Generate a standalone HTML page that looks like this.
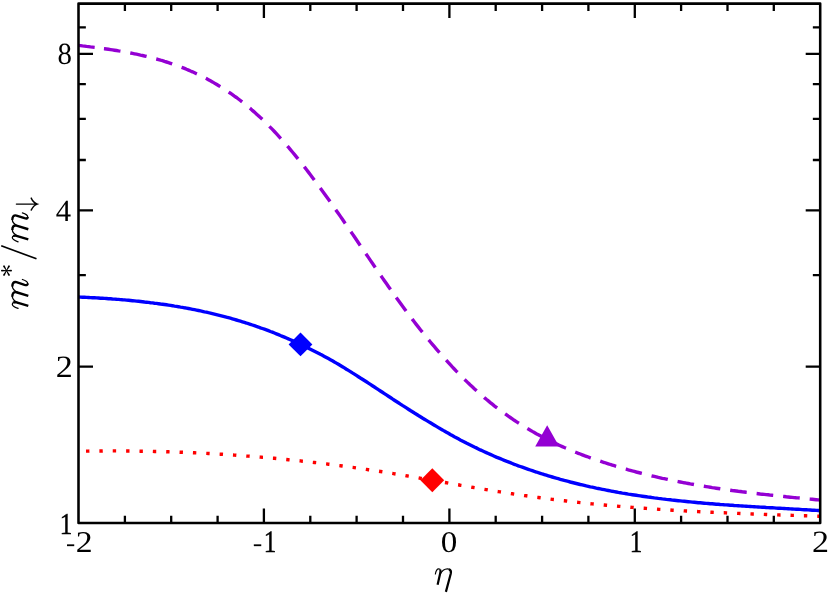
<!DOCTYPE html>
<html><head><meta charset="utf-8"><title>m*/m vs eta</title>
<style>
html,body{margin:0;padding:0;background:#fff;}
body{width:830px;height:593px;overflow:hidden;}
svg{display:block;}
text{font-family:"Liberation Serif",serif;fill:#000;}
</style></head><body>
<svg width="830" height="593" viewBox="0 0 830 593" style="will-change:transform">
<rect width="830" height="593" fill="#fff"/>
<defs><clipPath id="c"><rect x="78.5" y="3.6" width="741.7" height="519.4"/></clipPath></defs>
<g clip-path="url(#c)" fill="none" stroke-width="3.4">
<path d="M78.5,451.2 L80.5,451.2 L82.5,451.1 L84.5,451.1 L86.5,451.1 L88.5,451.1 L90.5,451.0 L92.5,451.0 L94.5,451.0 L96.5,451.0 L98.5,451.0 L100.5,451.0 L102.5,451.0 L104.5,450.9 L106.5,450.9 L108.5,450.9 L110.5,450.9 L112.5,450.9 L114.5,450.9 L116.5,450.9 L118.5,451.0 L120.5,451.0 L122.5,451.0 L124.5,451.0 L126.5,451.0 L128.5,451.0 L130.5,451.0 L132.5,451.1 L134.5,451.1 L136.5,451.1 L138.5,451.1 L140.5,451.2 L142.5,451.2 L144.5,451.2 L146.5,451.3 L148.5,451.3 L150.5,451.4 L152.5,451.4 L154.5,451.5 L156.5,451.5 L158.5,451.5 L160.5,451.6 L162.5,451.7 L164.5,451.7 L166.5,451.8 L168.5,451.8 L170.5,451.9 L172.5,452.0 L174.5,452.0 L176.5,452.1 L178.5,452.2 L180.5,452.3 L182.5,452.3 L184.5,452.4 L186.5,452.5 L188.5,452.6 L190.5,452.7 L192.5,452.7 L194.5,452.8 L196.5,452.9 L198.5,453.0 L200.5,453.1 L202.4,453.2 L204.4,453.3 L206.4,453.4 L208.4,453.5 L210.4,453.6 L212.4,453.8 L214.4,453.9 L216.4,454.0 L218.4,454.1 L220.4,454.2 L222.4,454.3 L224.4,454.5 L226.4,454.6 L228.4,454.7 L230.4,454.9 L232.4,455.0 L234.4,455.1 L236.4,455.3 L238.4,455.4 L240.4,455.6 L242.4,455.7 L244.4,455.8 L246.4,456.0 L248.4,456.1 L250.4,456.3 L252.4,456.5 L254.4,456.6 L256.4,456.8 L258.4,456.9 L260.4,457.1 L262.4,457.3 L264.4,457.4 L266.4,457.6 L268.4,457.8 L270.4,458.0 L272.4,458.2 L274.4,458.3 L276.4,458.5 L278.4,458.7 L280.4,458.9 L282.4,459.1 L284.4,459.3 L286.4,459.5 L288.4,459.7 L290.4,459.9 L292.4,460.1 L294.4,460.3 L296.4,460.5 L298.4,460.7 L300.4,460.9 L302.4,461.2 L304.4,461.4 L306.4,461.6 L308.4,461.8 L310.4,462.0 L312.4,462.3 L314.4,462.5 L316.4,462.7 L318.4,463.0 L320.4,463.2 L322.4,463.4 L324.4,463.7 L326.4,463.9 L328.4,464.2 L330.4,464.4 L332.4,464.7 L334.4,464.9 L336.4,465.2 L338.4,465.5 L340.4,465.7 L342.4,466.0 L344.4,466.3 L346.4,466.5 L348.4,466.8 L350.4,467.1 L352.4,467.4 L354.4,467.6 L356.4,467.9 L358.4,468.2 L360.4,468.5 L362.4,468.8 L364.4,469.1 L366.4,469.4 L368.4,469.7 L370.4,470.0 L372.4,470.3 L374.4,470.6 L376.4,470.9 L378.4,471.2 L380.4,471.5 L382.4,471.8 L384.4,472.1 L386.4,472.5 L388.4,472.8 L390.4,473.1 L392.4,473.4 L394.4,473.8 L396.4,474.1 L398.4,474.4 L400.4,474.8 L402.4,475.1 L404.4,475.4 L406.4,475.8 L408.4,476.1 L410.4,476.4 L412.4,476.8 L414.4,477.1 L416.4,477.5 L418.4,477.8 L420.4,478.2 L422.4,478.5 L424.4,478.9 L426.4,479.2 L428.4,479.6 L430.4,479.9 L432.4,480.3 L434.4,480.6 L436.4,481.0 L438.4,481.3 L440.4,481.7 L442.4,482.0 L444.4,482.4 L446.4,482.7 L448.4,483.1 L450.3,483.4 L452.3,483.8 L454.3,484.1 L456.3,484.5 L458.3,484.8 L460.3,485.2 L462.3,485.5 L464.3,485.9 L466.3,486.2 L468.3,486.6 L470.3,486.9 L472.3,487.3 L474.3,487.6 L476.3,487.9 L478.3,488.3 L480.3,488.6 L482.3,489.0 L484.3,489.3 L486.3,489.6 L488.3,490.0 L490.3,490.3 L492.3,490.6 L494.3,490.9 L496.3,491.3 L498.3,491.6 L500.3,491.9 L502.3,492.2 L504.3,492.5 L506.3,492.8 L508.3,493.2 L510.3,493.5 L512.3,493.8 L514.3,494.1 L516.3,494.4 L518.3,494.7 L520.3,495.0 L522.3,495.3 L524.3,495.6 L526.3,495.8 L528.3,496.1 L530.3,496.4 L532.3,496.7 L534.3,497.0 L536.3,497.3 L538.3,497.5 L540.3,497.8 L542.3,498.1 L544.3,498.3 L546.3,498.6 L548.3,498.8 L550.3,499.1 L552.3,499.4 L554.3,499.6 L556.3,499.9 L558.3,500.1 L560.3,500.3 L562.3,500.6 L564.3,500.8 L566.3,501.0 L568.3,501.3 L570.3,501.5 L572.3,501.7 L574.3,502.0 L576.3,502.2 L578.3,502.4 L580.3,502.6 L582.3,502.8 L584.3,503.0 L586.3,503.2 L588.3,503.4 L590.3,503.7 L592.3,503.9 L594.3,504.1 L596.3,504.2 L598.3,504.4 L600.3,504.6 L602.3,504.8 L604.3,505.0 L606.3,505.2 L608.3,505.4 L610.3,505.6 L612.3,505.7 L614.3,505.9 L616.3,506.1 L618.3,506.3 L620.3,506.4 L622.3,506.6 L624.3,506.8 L626.3,506.9 L628.3,507.1 L630.3,507.2 L632.3,507.4 L634.3,507.6 L636.3,507.7 L638.3,507.9 L640.3,508.0 L642.3,508.2 L644.3,508.3 L646.3,508.4 L648.3,508.6 L650.3,508.7 L652.3,508.9 L654.3,509.0 L656.3,509.1 L658.3,509.3 L660.3,509.4 L662.3,509.5 L664.3,509.7 L666.3,509.8 L668.3,509.9 L670.3,510.0 L672.3,510.2 L674.3,510.3 L676.3,510.4 L678.3,510.5 L680.3,510.6 L682.3,510.7 L684.3,510.9 L686.3,511.0 L688.3,511.1 L690.3,511.2 L692.3,511.3 L694.3,511.4 L696.3,511.5 L698.2,511.6 L700.2,511.7 L702.2,511.8 L704.2,511.9 L706.2,512.0 L708.2,512.1 L710.2,512.2 L712.2,512.3 L714.2,512.4 L716.2,512.5 L718.2,512.6 L720.2,512.7 L722.2,512.8 L724.2,512.8 L726.2,512.9 L728.2,513.0 L730.2,513.1 L732.2,513.2 L734.2,513.3 L736.2,513.3 L738.2,513.4 L740.2,513.5 L742.2,513.6 L744.2,513.7 L746.2,513.7 L748.2,513.8 L750.2,513.9 L752.2,514.0 L754.2,514.0 L756.2,514.1 L758.2,514.2 L760.2,514.3 L762.2,514.3 L764.2,514.4 L766.2,514.5 L768.2,514.6 L770.2,514.6 L772.2,514.7 L774.2,514.8 L776.2,514.8 L778.2,514.9 L780.2,515.0 L782.2,515.0 L784.2,515.1 L786.2,515.2 L788.2,515.2 L790.2,515.3 L792.2,515.4 L794.2,515.4 L796.2,515.5 L798.2,515.6 L800.2,515.6 L802.2,515.7 L804.2,515.7 L806.2,515.8 L808.2,515.9 L810.2,515.9 L812.2,516.0 L814.2,516.1 L816.2,516.1 L818.2,516.2 L820.2,516.2" stroke="#ff0000" stroke-dasharray="3.4 9.97" stroke-dashoffset="-7.5"/>
<path d="M78.5,297.0 L80.5,297.1 L82.5,297.2 L84.5,297.3 L86.5,297.4 L88.5,297.5 L90.5,297.6 L92.5,297.7 L94.5,297.8 L96.5,297.9 L98.5,298.0 L100.5,298.2 L102.5,298.3 L104.5,298.4 L106.5,298.5 L108.5,298.7 L110.5,298.8 L112.5,299.0 L114.5,299.1 L116.5,299.3 L118.5,299.4 L120.5,299.6 L122.5,299.8 L124.5,299.9 L126.5,300.1 L128.5,300.3 L130.5,300.5 L132.5,300.7 L134.5,300.9 L136.5,301.1 L138.5,301.3 L140.5,301.5 L142.5,301.7 L144.5,302.0 L146.5,302.2 L148.5,302.4 L150.5,302.7 L152.5,302.9 L154.5,303.2 L156.5,303.4 L158.5,303.7 L160.5,304.0 L162.5,304.2 L164.5,304.5 L166.5,304.8 L168.5,305.1 L170.5,305.4 L172.5,305.7 L174.5,306.1 L176.5,306.4 L178.5,306.7 L180.5,307.1 L182.5,307.4 L184.5,307.8 L186.5,308.1 L188.5,308.5 L190.5,308.9 L192.5,309.3 L194.5,309.7 L196.5,310.1 L198.5,310.5 L200.5,310.9 L202.4,311.3 L204.4,311.8 L206.4,312.2 L208.4,312.7 L210.4,313.1 L212.4,313.6 L214.4,314.1 L216.4,314.6 L218.4,315.1 L220.4,315.6 L222.4,316.1 L224.4,316.6 L226.4,317.2 L228.4,317.7 L230.4,318.2 L232.4,318.8 L234.4,319.4 L236.4,320.0 L238.4,320.6 L240.4,321.2 L242.4,321.8 L244.4,322.4 L246.4,323.0 L248.4,323.7 L250.4,324.3 L252.4,325.0 L254.4,325.7 L256.4,326.4 L258.4,327.0 L260.4,327.8 L262.4,328.5 L264.4,329.2 L266.4,329.9 L268.4,330.7 L270.4,331.5 L272.4,332.2 L274.4,333.0 L276.4,333.8 L278.4,334.6 L280.4,335.5 L282.4,336.3 L284.4,337.1 L286.4,338.0 L288.4,338.9 L290.4,339.7 L292.4,340.6 L294.4,341.5 L296.4,342.5 L298.4,343.4 L300.4,344.3 L302.4,345.3 L304.4,346.2 L306.4,347.2 L308.4,348.2 L310.4,349.2 L312.4,350.2 L314.4,351.2 L316.4,352.2 L318.4,353.2 L320.4,354.3 L322.4,355.3 L324.4,356.4 L326.4,357.5 L328.4,358.6 L330.4,359.7 L332.4,360.8 L334.4,362.0 L336.4,363.1 L338.4,364.3 L340.4,365.5 L342.4,366.7 L344.4,367.9 L346.4,369.2 L348.4,370.4 L350.4,371.6 L352.4,372.9 L354.4,374.1 L356.4,375.4 L358.4,376.7 L360.4,378.0 L362.4,379.2 L364.4,380.5 L366.4,381.8 L368.4,383.1 L370.4,384.4 L372.4,385.7 L374.4,387.0 L376.4,388.3 L378.4,389.7 L380.4,391.0 L382.4,392.3 L384.4,393.6 L386.4,394.9 L388.4,396.2 L390.4,397.5 L392.4,398.9 L394.4,400.2 L396.4,401.5 L398.4,402.8 L400.4,404.1 L402.4,405.4 L404.4,406.6 L406.4,407.9 L408.4,409.2 L410.4,410.5 L412.4,411.7 L414.4,413.0 L416.4,414.2 L418.4,415.5 L420.4,416.7 L422.4,418.0 L424.4,419.2 L426.4,420.4 L428.4,421.6 L430.4,422.8 L432.4,424.0 L434.4,425.2 L436.4,426.4 L438.4,427.6 L440.4,428.8 L442.4,429.9 L444.4,431.1 L446.4,432.2 L448.4,433.3 L450.3,434.5 L452.3,435.6 L454.3,436.7 L456.3,437.7 L458.3,438.8 L460.3,439.9 L462.3,440.9 L464.3,441.9 L466.3,443.0 L468.3,444.0 L470.3,445.0 L472.3,446.0 L474.3,447.0 L476.3,447.9 L478.3,448.9 L480.3,449.9 L482.3,450.8 L484.3,451.7 L486.3,452.6 L488.3,453.5 L490.3,454.4 L492.3,455.3 L494.3,456.2 L496.3,457.1 L498.3,457.9 L500.3,458.7 L502.3,459.5 L504.3,460.4 L506.3,461.2 L508.3,461.9 L510.3,462.7 L512.3,463.5 L514.3,464.3 L516.3,465.0 L518.3,465.8 L520.3,466.5 L522.3,467.2 L524.3,467.9 L526.3,468.6 L528.3,469.3 L530.3,470.0 L532.3,470.7 L534.3,471.4 L536.3,472.0 L538.3,472.7 L540.3,473.3 L542.3,474.0 L544.3,474.6 L546.3,475.2 L548.3,475.8 L550.3,476.4 L552.3,477.0 L554.3,477.6 L556.3,478.2 L558.3,478.7 L560.3,479.3 L562.3,479.8 L564.3,480.4 L566.3,480.9 L568.3,481.4 L570.3,482.0 L572.3,482.5 L574.3,483.0 L576.3,483.5 L578.3,484.0 L580.3,484.5 L582.3,484.9 L584.3,485.4 L586.3,485.9 L588.3,486.3 L590.3,486.8 L592.3,487.2 L594.3,487.6 L596.3,488.1 L598.3,488.5 L600.3,488.9 L602.3,489.3 L604.3,489.7 L606.3,490.1 L608.3,490.5 L610.3,490.9 L612.3,491.3 L614.3,491.6 L616.3,492.0 L618.3,492.4 L620.3,492.7 L622.3,493.1 L624.3,493.4 L626.3,493.7 L628.3,494.1 L630.3,494.4 L632.3,494.7 L634.3,495.0 L636.3,495.3 L638.3,495.6 L640.3,495.9 L642.3,496.2 L644.3,496.5 L646.3,496.8 L648.3,497.1 L650.3,497.3 L652.3,497.6 L654.3,497.9 L656.3,498.1 L658.3,498.4 L660.3,498.6 L662.3,498.9 L664.3,499.1 L666.3,499.4 L668.3,499.6 L670.3,499.8 L672.3,500.1 L674.3,500.3 L676.3,500.5 L678.3,500.7 L680.3,500.9 L682.3,501.1 L684.3,501.3 L686.3,501.5 L688.3,501.7 L690.3,501.9 L692.3,502.1 L694.3,502.3 L696.3,502.5 L698.2,502.7 L700.2,502.8 L702.2,503.0 L704.2,503.2 L706.2,503.4 L708.2,503.5 L710.2,503.7 L712.2,503.8 L714.2,504.0 L716.2,504.2 L718.2,504.3 L720.2,504.5 L722.2,504.6 L724.2,504.8 L726.2,504.9 L728.2,505.0 L730.2,505.2 L732.2,505.3 L734.2,505.5 L736.2,505.6 L738.2,505.7 L740.2,505.9 L742.2,506.0 L744.2,506.1 L746.2,506.2 L748.2,506.4 L750.2,506.5 L752.2,506.6 L754.2,506.7 L756.2,506.9 L758.2,507.0 L760.2,507.1 L762.2,507.2 L764.2,507.3 L766.2,507.5 L768.2,507.6 L770.2,507.7 L772.2,507.8 L774.2,507.9 L776.2,508.1 L778.2,508.2 L780.2,508.3 L782.2,508.4 L784.2,508.5 L786.2,508.6 L788.2,508.7 L790.2,508.9 L792.2,509.0 L794.2,509.1 L796.2,509.2 L798.2,509.3 L800.2,509.4 L802.2,509.6 L804.2,509.7 L806.2,509.8 L808.2,509.9 L810.2,510.0 L812.2,510.2 L814.2,510.3 L816.2,510.4 L818.2,510.5 L820.2,510.7" stroke="#0000ff"/>
<path d="M78.5,45.4 L80.5,45.6 L82.5,45.9 L84.5,46.1 L86.5,46.4 L88.5,46.6 L90.5,46.9 L92.5,47.1 L94.5,47.4 L96.5,47.6 L98.5,47.9 L100.5,48.2 L102.5,48.5 L104.5,48.7 L106.5,49.0 L108.5,49.3 L110.5,49.6 L112.5,49.9 L114.5,50.2 L116.5,50.5 L118.5,50.9 L120.5,51.2 L122.5,51.5 L124.5,51.9 L126.5,52.2 L128.5,52.6 L130.5,53.0 L132.5,53.4 L134.5,53.8 L136.5,54.2 L138.5,54.6 L140.5,55.1 L142.5,55.5 L144.5,56.0 L146.5,56.4 L148.5,56.9 L150.5,57.4 L152.5,57.9 L154.5,58.5 L156.5,59.0 L158.5,59.6 L160.5,60.2 L162.5,60.7 L164.5,61.4 L166.5,62.0 L168.5,62.6 L170.5,63.3 L172.5,64.0 L174.5,64.7 L176.5,65.4 L178.5,66.1 L180.5,66.9 L182.5,67.6 L184.5,68.4 L186.5,69.3 L188.5,70.1 L190.5,71.0 L192.5,71.8 L194.5,72.7 L196.5,73.7 L198.5,74.6 L200.5,75.6 L202.4,76.6 L204.4,77.6 L206.4,78.6 L208.4,79.7 L210.4,80.8 L212.4,81.9 L214.4,83.1 L216.4,84.3 L218.4,85.5 L220.4,86.7 L222.4,87.9 L224.4,89.2 L226.4,90.5 L228.4,91.9 L230.4,93.2 L232.4,94.6 L234.4,96.1 L236.4,97.5 L238.4,99.0 L240.4,100.5 L242.4,102.1 L244.4,103.7 L246.4,105.3 L248.4,107.0 L250.4,108.6 L252.4,110.4 L254.4,112.1 L256.4,113.9 L258.4,115.7 L260.4,117.6 L262.4,119.4 L264.4,121.4 L266.4,123.3 L268.4,125.3 L270.4,127.4 L272.4,129.4 L274.4,131.5 L276.4,133.7 L278.4,135.9 L280.4,138.1 L282.4,140.3 L284.4,142.6 L286.4,144.9 L288.4,147.2 L290.4,149.6 L292.4,152.0 L294.4,154.4 L296.4,156.9 L298.4,159.3 L300.4,161.8 L302.4,164.4 L304.4,166.9 L306.4,169.5 L308.4,172.1 L310.4,174.7 L312.4,177.4 L314.4,180.1 L316.4,182.8 L318.4,185.5 L320.4,188.2 L322.4,190.9 L324.4,193.7 L326.4,196.5 L328.4,199.3 L330.4,202.1 L332.4,204.9 L334.4,207.8 L336.4,210.7 L338.4,213.5 L340.4,216.4 L342.4,219.3 L344.4,222.2 L346.4,225.1 L348.4,228.0 L350.4,231.0 L352.4,233.9 L354.4,236.8 L356.4,239.8 L358.4,242.7 L360.4,245.7 L362.4,248.6 L364.4,251.6 L366.4,254.5 L368.4,257.4 L370.4,260.4 L372.4,263.3 L374.4,266.2 L376.4,269.2 L378.4,272.1 L380.4,275.0 L382.4,277.9 L384.4,280.8 L386.4,283.6 L388.4,286.5 L390.4,289.3 L392.4,292.2 L394.4,295.0 L396.4,297.8 L398.4,300.5 L400.4,303.3 L402.4,306.0 L404.4,308.8 L406.4,311.5 L408.4,314.1 L410.4,316.8 L412.4,319.4 L414.4,322.0 L416.4,324.6 L418.4,327.1 L420.4,329.7 L422.4,332.2 L424.4,334.7 L426.4,337.1 L428.4,339.6 L430.4,342.0 L432.4,344.4 L434.4,346.7 L436.4,349.1 L438.4,351.4 L440.4,353.7 L442.4,355.9 L444.4,358.2 L446.4,360.4 L448.4,362.6 L450.3,364.7 L452.3,366.9 L454.3,369.0 L456.3,371.1 L458.3,373.1 L460.3,375.2 L462.3,377.2 L464.3,379.2 L466.3,381.1 L468.3,383.1 L470.3,385.0 L472.3,386.8 L474.3,388.7 L476.3,390.5 L478.3,392.3 L480.3,394.1 L482.3,395.8 L484.3,397.6 L486.3,399.3 L488.3,400.9 L490.3,402.6 L492.3,404.2 L494.3,405.8 L496.3,407.3 L498.3,408.8 L500.3,410.4 L502.3,411.8 L504.3,413.3 L506.3,414.7 L508.3,416.2 L510.3,417.5 L512.3,418.9 L514.3,420.3 L516.3,421.6 L518.3,422.9 L520.3,424.2 L522.3,425.4 L524.3,426.7 L526.3,427.9 L528.3,429.1 L530.3,430.2 L532.3,431.4 L534.3,432.5 L536.3,433.7 L538.3,434.7 L540.3,435.8 L542.3,436.9 L544.3,437.9 L546.3,439.0 L548.3,440.0 L550.3,441.0 L552.3,441.9 L554.3,442.9 L556.3,443.8 L558.3,444.8 L560.3,445.7 L562.3,446.6 L564.3,447.5 L566.3,448.3 L568.3,449.2 L570.3,450.0 L572.3,450.9 L574.3,451.7 L576.3,452.5 L578.3,453.3 L580.3,454.0 L582.3,454.8 L584.3,455.6 L586.3,456.3 L588.3,457.0 L590.3,457.8 L592.3,458.5 L594.3,459.2 L596.3,459.9 L598.3,460.5 L600.3,461.2 L602.3,461.9 L604.3,462.5 L606.3,463.2 L608.3,463.8 L610.3,464.5 L612.3,465.1 L614.3,465.7 L616.3,466.3 L618.3,466.9 L620.3,467.5 L622.3,468.1 L624.3,468.7 L626.3,469.2 L628.3,469.8 L630.3,470.3 L632.3,470.9 L634.3,471.4 L636.3,472.0 L638.3,472.5 L640.3,473.0 L642.3,473.5 L644.3,474.0 L646.3,474.5 L648.3,475.0 L650.3,475.5 L652.3,476.0 L654.3,476.4 L656.3,476.9 L658.3,477.4 L660.3,477.8 L662.3,478.3 L664.3,478.7 L666.3,479.1 L668.3,479.6 L670.3,480.0 L672.3,480.4 L674.3,480.8 L676.3,481.2 L678.3,481.6 L680.3,482.0 L682.3,482.4 L684.3,482.8 L686.3,483.1 L688.3,483.5 L690.3,483.9 L692.3,484.2 L694.3,484.6 L696.3,484.9 L698.2,485.3 L700.2,485.6 L702.2,486.0 L704.2,486.3 L706.2,486.6 L708.2,486.9 L710.2,487.2 L712.2,487.6 L714.2,487.9 L716.2,488.2 L718.2,488.5 L720.2,488.8 L722.2,489.1 L724.2,489.3 L726.2,489.6 L728.2,489.9 L730.2,490.2 L732.2,490.5 L734.2,490.7 L736.2,491.0 L738.2,491.3 L740.2,491.5 L742.2,491.8 L744.2,492.0 L746.2,492.3 L748.2,492.5 L750.2,492.8 L752.2,493.0 L754.2,493.3 L756.2,493.5 L758.2,493.7 L760.2,494.0 L762.2,494.2 L764.2,494.4 L766.2,494.6 L768.2,494.8 L770.2,495.1 L772.2,495.3 L774.2,495.5 L776.2,495.7 L778.2,495.9 L780.2,496.1 L782.2,496.3 L784.2,496.5 L786.2,496.8 L788.2,497.0 L790.2,497.2 L792.2,497.4 L794.2,497.6 L796.2,497.8 L798.2,497.9 L800.2,498.1 L802.2,498.3 L804.2,498.5 L806.2,498.7 L808.2,498.9 L810.2,499.1 L812.2,499.3 L814.2,499.5 L816.2,499.7 L818.2,499.9 L820.2,500.1" stroke="#9400d3" stroke-dasharray="16.3 9.37 16.7 9.97 16.7 9.97 16.7 9.97 16.7 9.97 16.7 9.97 16.7 9.97 16.7 9.97 16.7 9.97 16.7 9.97 16.7 9.97 16.7 9.97 16.7 9.97 16.7 9.97 16.7 9.97 16.7 9.97 16.7 9.97 16.7 9.97 16.7 9.97 16.7 9.97 16.7 9.97 16.7 9.97 16.7 9.97 16.7 9.97 16.7 9.97 16.7 9.97 16.7 9.97 16.7 9.97 16.7 9.97 16.7 9.97 16.7 9.97 16.7 9.97 16.7 9.97 16.7 9.97 16.7 9.97 16.7 9.97 16.7 9.97 16.7 9.97 16.7 9.97 16.7 9.97 16.7 9.97"/>
</g>
<path d="M420.4,480.3 L432.3,468.3 L444.2,480.3 L432.3,492.2Z" fill="#ff0000"/>
<path d="M288.6,344.4 L300.5,332.4 L312.4,344.4 L300.5,356.3Z" fill="#0000ff"/>
<path d="M547.2,425.2 L559.2,446.5 L535.2,446.5Z" fill="#9400d3"/>
<path d="M263.9,523.0 v-14.5 M263.9,3.6 v14.5 M449.4,523.0 v-14.5 M449.4,3.6 v14.5 M634.8,523.0 v-14.5 M634.8,3.6 v14.5 M124.9,523.0 v-7.35 M124.9,3.6 v7.35 M171.2,523.0 v-7.35 M171.2,3.6 v7.35 M217.6,523.0 v-7.35 M217.6,3.6 v7.35 M310.3,523.0 v-7.35 M310.3,3.6 v7.35 M356.6,523.0 v-7.35 M356.6,3.6 v7.35 M403.0,523.0 v-7.35 M403.0,3.6 v7.35 M495.7,523.0 v-7.35 M495.7,3.6 v7.35 M542.1,523.0 v-7.35 M542.1,3.6 v7.35 M588.4,523.0 v-7.35 M588.4,3.6 v7.35 M681.1,523.0 v-7.35 M681.1,3.6 v7.35 M727.5,523.0 v-7.35 M727.5,3.6 v7.35 M773.8,523.0 v-7.35 M773.8,3.6 v7.35 M78.5,366.6 h14.5 M820.2,366.6 h-14.5 M78.5,210.3 h14.5 M820.2,210.3 h-14.5 M78.5,53.9 h14.5 M820.2,53.9 h-14.5 M78.5,275.2 h7.35 M820.2,275.2 h-7.35 M78.5,160.0 h7.35 M820.2,160.0 h-7.35 M78.5,118.8 h7.35 M820.2,118.8 h-7.35 M78.5,84.1 h7.35 M820.2,84.1 h-7.35 M78.5,27.4 h7.35 M820.2,27.4 h-7.35" stroke="#000" stroke-width="2.3" fill="none"/>
<rect x="78.5" y="3.6" width="741.7" height="519.4" fill="none" stroke="#000" stroke-width="2.55" stroke-linejoin="round"/>
<g font-size="30.6" text-rendering="geometricPrecision"><text transform="translate(57.39,64.04) scale(0.942,1.005)">8</text><text transform="translate(55.64,220.75) scale(1.002,1.01)">4</text><text transform="translate(55.68,377.05) scale(1.111,1.015)">2</text><text transform="translate(59.87,533.55) scale(0.82,0.99)" stroke="#000" stroke-width="0.5">1</text><text transform="translate(66.03,550.96) scale(0.905,0.8)">-</text><text transform="translate(75.69,551.75) scale(1.103,0.985)">2</text><text transform="translate(252.85,551.06) scale(0.936,0.8)">-</text><text transform="translate(263.84,551.75) scale(0.82,1.01)" stroke="#000" stroke-width="0.5">1</text><text transform="translate(440.74,551.65) scale(1.08,0.98)">0</text><text transform="translate(629.79,551.75) scale(0.82,1.015)" stroke="#000" stroke-width="0.5">1</text><text transform="translate(811.88,551.75) scale(1.111,1.01)">2</text></g>

<g transform="translate(28.3,309) rotate(-90)" stroke="#000" fill="none" stroke-width="1.5" stroke-linecap="round">
<g>
<g stroke-width="1.25" stroke-linecap="round">
<path d="M0.6,-10.2 C1.7,-13.4 3.2,-16 4.8,-16 C5.8,-16 6.3,-15.3 6.3,-14.3"/>
<path d="M6.1,-10.2 C7.6,-13.5 10,-16 12.8,-16"/>
<path d="M16.2,-10.2 C17.8,-13.5 20.1,-16 22.9,-16"/>
<path d="M25.3,-0.6 C27,-0.6 28.5,-2.6 29.5,-5.9"/>
</g>
<g stroke-width="2.4" stroke-linecap="butt">
<path d="M6.4,-15 C6.9,-14.2 6.9,-13 6.6,-11.8 L3.05,0"/>
<path d="M12.4,-15.9 C15.6,-16.1 17.4,-14.6 16.75,-11.8 L13.15,0"/>
<path d="M22.5,-15.9 C25.7,-16.1 27.5,-14.6 26.85,-11.8 L24.2,-3.8 C23.5,-1.4 24,-0.6 25.5,-0.6"/>
</g></g>
<path d="M38.72,-21.80 L39.30,-26.40 A0.9,0.9 0 0 0 37.50,-26.40 L38.08,-21.80Z M38.56,-21.52 L43.18,-23.52 A0.9,0.9 0 0 0 42.28,-25.08 L38.24,-22.08Z M38.24,-21.52 L42.28,-18.52 A0.9,0.9 0 0 0 43.18,-20.08 L38.56,-22.08Z M38.08,-21.80 L37.50,-17.20 A0.9,0.9 0 0 0 39.30,-17.20 L38.72,-21.80Z M38.24,-22.08 L33.62,-20.08 A0.9,0.9 0 0 0 34.52,-18.52 L38.56,-21.52Z M38.56,-22.08 L34.52,-25.08 A0.9,0.9 0 0 0 33.62,-23.52 L38.24,-21.52Z" fill="#000" stroke="none"/>
<path d="M50.2,8.2 L63.2,-27.1" stroke-linecap="butt" stroke-width="1.65"/>
<g transform="translate(66.6,0)">
<g stroke-width="1.25" stroke-linecap="round">
<path d="M0.6,-10.2 C1.7,-13.4 3.2,-16 4.8,-16 C5.8,-16 6.3,-15.3 6.3,-14.3"/>
<path d="M6.1,-10.2 C7.6,-13.5 10,-16 12.8,-16"/>
<path d="M16.2,-10.2 C17.8,-13.5 20.1,-16 22.9,-16"/>
<path d="M25.3,-0.6 C27,-0.6 28.5,-2.6 29.5,-5.9"/>
</g>
<g stroke-width="2.4" stroke-linecap="butt">
<path d="M6.4,-15 C6.9,-14.2 6.9,-13 6.6,-11.8 L3.05,0"/>
<path d="M12.4,-15.9 C15.6,-16.1 17.4,-14.6 16.75,-11.8 L13.15,0"/>
<path d="M22.5,-15.9 C25.7,-16.1 27.5,-14.6 26.85,-11.8 L24.2,-3.8 C23.5,-1.4 24,-0.6 25.5,-0.6"/>
</g></g>
<path d="M104.9,-11.9 V8.8 M98.9,2.9 Q103.5,5 104.9,9 Q106.3,5 110.9,2.9" stroke-width="1.4"/>
</g>

<g fill="none" stroke="#000">
<g stroke-width="1.2" stroke-linecap="round">
<path d="M435.4,574 C435.9,571 437.1,568.9 438.7,568.9 C439.8,568.9 440.4,569.6 440.5,570.6"/>
<path d="M439.9,574.6 C441.5,571.5 444.4,568.9 447.4,568.9 C448.4,568.9 449.2,569.1 449.8,569.5"/>
</g>
<g stroke-width="2.2" stroke-linecap="butt">
<path d="M440.3,569.8 C440.7,570.8 440.5,572 440.2,573.2 L437.6,584.8"/>
<path d="M449,569.4 C450.6,570 451.3,571.5 450.8,573.6 L445.9,591.9"/>
</g></g>

</svg>
</body></html>
